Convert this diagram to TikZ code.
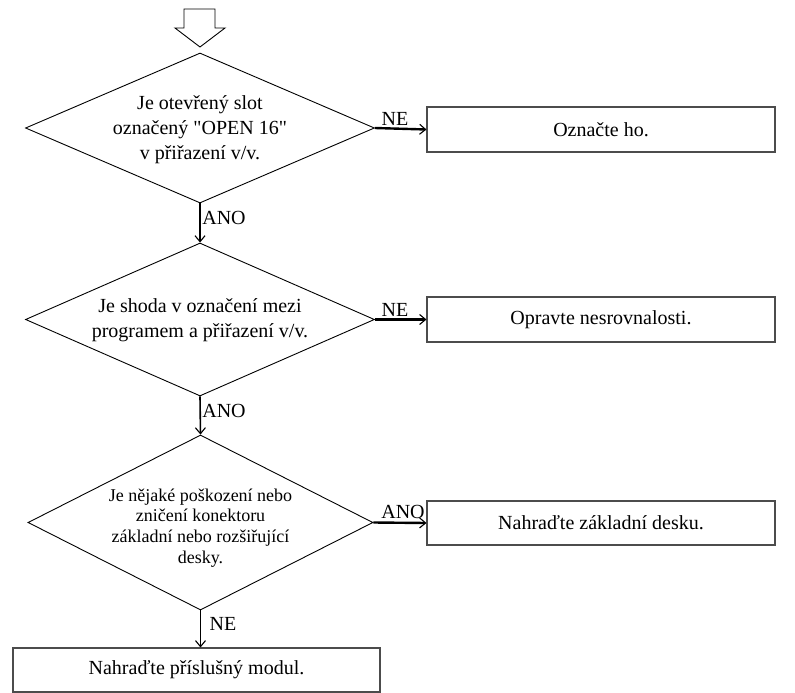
\documentclass[tikz,border=0pt]{standalone}
\usepackage{fontspec}
\setmainfont{Liberation Serif}[Ligatures=TeXOff]
\usetikzlibrary{shapes.geometric,arrows.meta}
\begin{document}
\begin{tikzpicture}[x=1pt,y=-1pt,
  decision/.style={draw=black, line width=0.9pt, shape=diamond, inner sep=0pt},
  question/.style={align=center, inner sep=0pt, font=\fontsize{20}{25}\selectfont},
  action/.style={draw=black!70, line width=1.1pt, rectangle, inner sep=0pt,
    minimum height=45pt, font=\fontsize{20}{24}\selectfont},
  flow/.style={line width=1.6pt, -{Straight Barb[length=6pt,width=10pt,line width=1.1pt]}},
  sideflow/.style={flow, line width=2.4pt},
  branch/.style={font=\fontsize{20}{24}\selectfont, inner sep=0pt}]
\useasboundingbox (0,0) rectangle (795,693);

% entry arrow
\draw[line width=0.9pt, line join=miter] (184,9) -- (215,9) -- (215,28) -- (225,28)
  -- (200,47) -- (175,28) -- (184,28) -- cycle;

% decisions
\node[decision, minimum width=349pt, minimum height=150pt] (d1) at (200,128) {};
\node[question] (q1) at ([yshift=-1.5pt]d1.center)
  {Je otevřený slot\\označený "OPEN 16"\\v přiřazení v/v.};
\node[decision, minimum width=349pt, minimum height=153pt] (d2) at (200,319.5) {};
\node[question] (q2) at ([yshift=-1pt]d2.center)
  {Je shoda v označení mezi\\programem a přiřazení v/v.};
\node[decision, minimum width=345pt, minimum height=175pt] (d3) at (200.5,522.5) {};
\node[question, font=\fontsize{18}{20.8}\selectfont] (q3) at ([yshift=-5.5pt]d3.center)
  {Je nějaké poškození nebo\\zničení konektoru\\základní nebo rozšiřující\\desky.};

% actions
\node[action, minimum width=348pt] (a1) at (601,129.5) {Označte ho.};
\node[action, minimum width=348pt] (a2) at (601,319.5) {Opravte nesrovnalosti.};
\node[action, minimum width=348pt, minimum height=44pt] (a3) at (601,523) {Nahraďte základní desku.};
\node[action, minimum width=367pt, minimum height=44pt] (a4) at (196.5,670) {Nahraďte příslušný modul.};

% connectors
\draw[sideflow] (d1.east) -- (a1.west);
\draw[sideflow] (d2.east) -- (a2.west);
\draw[sideflow] (d3.east) -- (a3.west);
\draw[flow] (d1.south) -- (d2.north);
\draw[flow] (d2.south) -- (d3.north);
\draw[flow] (d3.south) -- (d3.south |- a4.north);

% branch labels
\node[branch] (l1) at (395,119) {NE};
\node[branch] (l2) at (395,310) {NE};
\node[branch] (l3) at (403,512) {ANO};
\node[branch] (l4) at (224,218) {ANO};
\node[branch] (l5) at (224,411) {ANO};
\node[branch] (l6) at (223,624) {NE};
\end{tikzpicture}
\end{document}
